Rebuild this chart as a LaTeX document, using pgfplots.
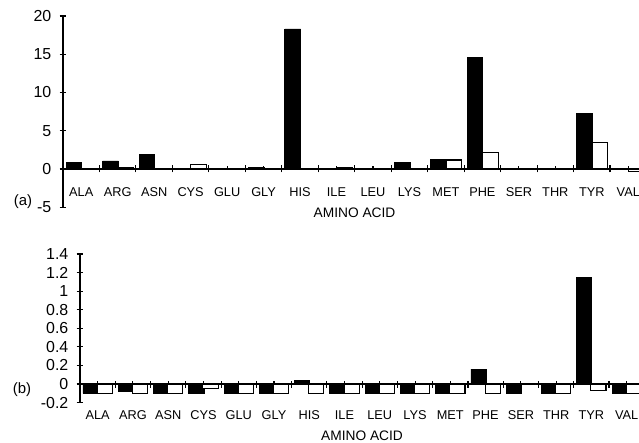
\documentclass[border=0pt]{standalone}
\usepackage{fontspec}
\setmainfont{Liberation Sans}
\usepackage{pgfplots}
\usepackage{pgfplotstable}
\pgfplotsset{compat=1.18}

\pgfplotstableread{
x    a      b
0.5  0.82   0
1.5  1.05   0.2
2.5  1.92   0
3.5  0      0.6
4.5  0.03   0.03
5.5  0.2    0.05
6.5  18.3   0
7.5  0.05   0.2
8.5  0      0
9.5  0.87   0
10.5 1.27   1.18
11.5 14.6   2.2
12.5 0      0
13.5 0      0
14.5 7.2    3.45
15.5 0      -0.3
}\topdata

\pgfplotstableread{
x    a      b
0.5  -0.1   -0.1
1.5  -0.075 -0.1
2.5  -0.1   -0.1
3.5  -0.1   -0.045
4.5  -0.1   -0.1
5.5  -0.1   -0.1
6.5  0.035  -0.1
7.5  -0.1   -0.1
8.5  -0.1   -0.1
9.5  -0.1   -0.1
10.5 -0.1   -0.1
11.5 0.16   -0.1
12.5 -0.1   0
13.5 -0.1   -0.1
14.5 1.15   -0.065
15.5 -0.1   -0.1
}\botdata

\pgfplotsset{
  panel/.style={
    scale only axis,
    anchor=south west,
    axis x line=middle,
    axis y line=left,
    axis line style={-, line width=1.2bp, black},
    enlargelimits=false,
    xmin=0, xmax=16,
    clip=false,
    ybar,
    bar width=0.43,
    xtick={0,...,16},
    xticklabels={},
    extra x ticks={0.5,1.5,...,15.5},
    extra x tick labels={ALA,ARG,ASN,CYS,GLU,GLY,HIS,ILE,LEU,LYS,MET,PHE,SER,THR,TYR,VAL},
    extra x tick style={major tick length=3bp, tick style={yshift=1.5bp}},
    tick align=center,
    major tick length=7bp,
    tick style={line width=1.1bp, black},
    /pgf/number format/assume math mode=true,
    yticklabel style={font=\fontsize{16}{18}\selectfont, anchor=east, inner xsep=0pt, xshift=-8bp},
  },
}

\begin{document}
\begin{tikzpicture}
\useasboundingbox (0,0) rectangle (639bp,443bp);

\begin{axis}[panel,
  at={(63bp,235.75bp)},
  width=583.5bp, height=191.25bp,
  ymin=-5, ymax=20, ytick={-5,0,5,10,15,20},
  xticklabel style={font=\fontsize{12.8}{14}\selectfont, anchor=base, yshift=-26bp},
]
\addplot[fill=black, draw=black, line width=0.9bp, bar shift=-0.2] table[x=x,y=a]{\topdata};
\addplot[fill=white, draw=black, line width=1.1bp, bar shift=0.22] table[x=x,y=b]{\topdata};
\end{axis}

\begin{axis}[panel,
  at={(80bp,40.4bp)},
  width=564.3bp, height=148.6bp,
  ymin=-0.2, ymax=1.4, ytick={-0.2,0,0.2,0.4,0.6,0.8,1,1.2,1.4},
  xticklabel style={font=\fontsize{12.8}{14}\selectfont, anchor=base, yshift=-34bp},
]
\addplot[fill=black, draw=black, line width=0.9bp, bar shift=-0.2] table[x=x,y=a]{\botdata};
\addplot[fill=white, draw=black, line width=1.1bp, bar shift=0.2] table[x=x,y=b]{\botdata};
\end{axis}

\node[anchor=base, font=\fontsize{13.8}{15}\selectfont] at (354.5bp,225bp) {AMINO ACID};
\node[anchor=base, font=\fontsize{13.8}{15}\selectfont] at (362bp,2.5bp) {AMINO ACID};
\node[font=\fontsize{15}{17}\selectfont] at (23bp,241bp) {(a)};
\node[font=\fontsize{15}{17}\selectfont] at (22bp,53bp) {(b)};
\end{tikzpicture}
\end{document}
